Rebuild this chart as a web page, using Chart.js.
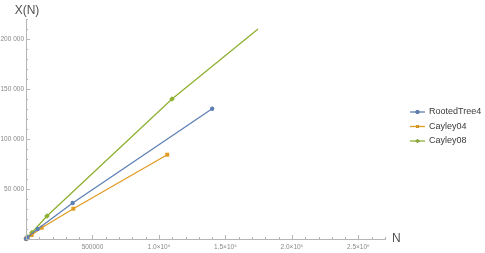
<!DOCTYPE html>
<html>
<head>
<meta charset="utf-8">
<script src="https://cdn.jsdelivr.net/npm/chart.js@4"></script>
<style>
  html, body { margin: 0; padding: 0; background: #fff; }
  #wrap { width: 485px; height: 253px; }
</style>
</head>
<body>
<div id="wrap"><canvas id="chart" width="485" height="253"></canvas></div>
<script>
const rootedN = [1000, 10000, 88000, 351000, 1400000];
const rootedX = [300, 1500, 10000, 36000, 130300];
const cayley04N = [1000, 12000, 43000, 118000, 356000, 1062000];
const cayley04X = [300, 1500, 4000, 11300, 30300, 84300];
const cayley08N = [1000, 12000, 45000, 158000, 1098000, 1745000];
const cayley08X = [300, 2000, 6500, 23000, 140000, 210000];

const seriesNames = ["RootedTree4", "Cayley04", "Cayley08"];
const xTickLabels = { 500000: "500000", 1000000: "1.0×10⁶", 1500000: "1.5×10⁶", 2000000: "2.0×10⁶", 2500000: "2.5×10⁶" };
const yTickLabels = { 50000: "50 000", 100000: "100 000", 150000: "150 000", 200000: "200 000" };

const toPoints = (xs, ys) => xs.map((x, i) => ({ x, y: ys[i] }));

const colors = ["#5e81b5", "#e19c24", "#8fb032"];

// inward tick marks, axis titles and a legend with line + marker
const extras = {
  id: "extras",
  afterDraw: (chart) => {
    const { ctx, chartArea } = chart;
    const xs = chart.scales.x;
    const ys = chart.scales.y;
    ctx.save();

    ctx.strokeStyle = "#b5b5b5";
    ctx.lineWidth = 1;
    ctx.beginPath();
    xs.ticks.forEach((t) => {
      const px = Math.round(xs.getPixelForValue(t.value)) + 0.5;
      const len = t.value % 500000 === 0 ? 4 : 2;
      ctx.moveTo(px, chartArea.bottom);
      ctx.lineTo(px, chartArea.bottom - len);
    });
    ys.ticks.forEach((t) => {
      const py = Math.round(ys.getPixelForValue(t.value)) + 0.5;
      const len = t.value % 50000 === 0 ? 4 : 2;
      ctx.moveTo(chartArea.left, py);
      ctx.lineTo(chartArea.left + len, py);
    });
    ctx.stroke();

    ctx.fillStyle = "#505050";
    ctx.font = "12px 'Liberation Sans', sans-serif";
    ctx.textBaseline = "middle";
    ctx.textAlign = "center";
    ctx.fillText("X(N)", chartArea.left + 1, 11);
    ctx.textAlign = "left";
    ctx.fillText("N", chartArea.right + 7, chartArea.bottom);

    ctx.font = "9px 'Liberation Sans', sans-serif";
    chart.data.datasets.forEach((ds, i) => {
      const y = 112 + i * 14.5;
      ctx.strokeStyle = ds.borderColor;
      ctx.lineWidth = 1.3;
      ctx.beginPath();
      ctx.moveTo(410, y);
      ctx.lineTo(425, y);
      ctx.stroke();
      Chart.helpers.drawPoint(ctx, { pointStyle: ds.pointStyle, radius: 2, borderWidth: 0 }, 417.5, y);
      ctx.fillStyle = ds.backgroundColor;
      ctx.fill();
      ctx.fillStyle = "#3a3a3a";
      ctx.fillText(ds.label, 429, y);
    });
    ctx.restore();
  },
};

const tickFont = { family: "'Liberation Sans', sans-serif", size: 6.5 };

const chart = new Chart(document.getElementById("chart").getContext("2d"), {
  type: "line",
  data: {
    datasets: [
      { label: seriesNames[0], data: toPoints(rootedN, rootedX), borderColor: colors[0], backgroundColor: colors[0], pointStyle: "circle", pointRadius: 2.2 },
      { label: seriesNames[1], data: toPoints(cayley04N, cayley04X), borderColor: colors[1], backgroundColor: colors[1], pointStyle: "rect", pointRadius: 2.8 },
      { label: seriesNames[2], data: toPoints(cayley08N, cayley08X), borderColor: colors[2], backgroundColor: colors[2], pointStyle: "rectRot", pointRadius: [2.8, 2.8, 2.8, 2.8, 2.8, 0] },
    ],
  },
  options: {
    responsive: false,
    animation: false,
    clip: false,
    elements: { line: { borderWidth: 1.3, tension: 0 }, point: { borderWidth: 0, hoverRadius: 2 } },
    layout: { padding: { top: 19, right: 100, bottom: 0, left: 0 } },
    scales: {
      x: {
        type: "linear",
        min: 0,
        max: 2700000,
        border: { color: "#b5b5b5" },
        grid: { drawOnChartArea: false, drawTicks: false },
        afterFit: (scale) => { scale.height = 14; },
        ticks: {
          stepSize: 100000,
          autoSkip: false,
          maxRotation: 0,
          color: "#888",
          font: tickFont,
          padding: 4,
          callback: (v) => xTickLabels[v] || "",
        },
      },
      y: {
        min: 0,
        max: 220000,
        border: { color: "#b5b5b5" },
        grid: { drawOnChartArea: false, drawTicks: false },
        afterFit: (scale) => { scale.width = 26; },
        ticks: {
          stepSize: 10000,
          autoSkip: false,
          color: "#888",
          font: tickFont,
          padding: 2,
          callback: (v) => yTickLabels[v] || "",
        },
      },
    },
    plugins: {
      legend: { display: false },
      tooltip: { enabled: false },
    },
  },
  plugins: [extras],
});
</script>
</body>
</html>
